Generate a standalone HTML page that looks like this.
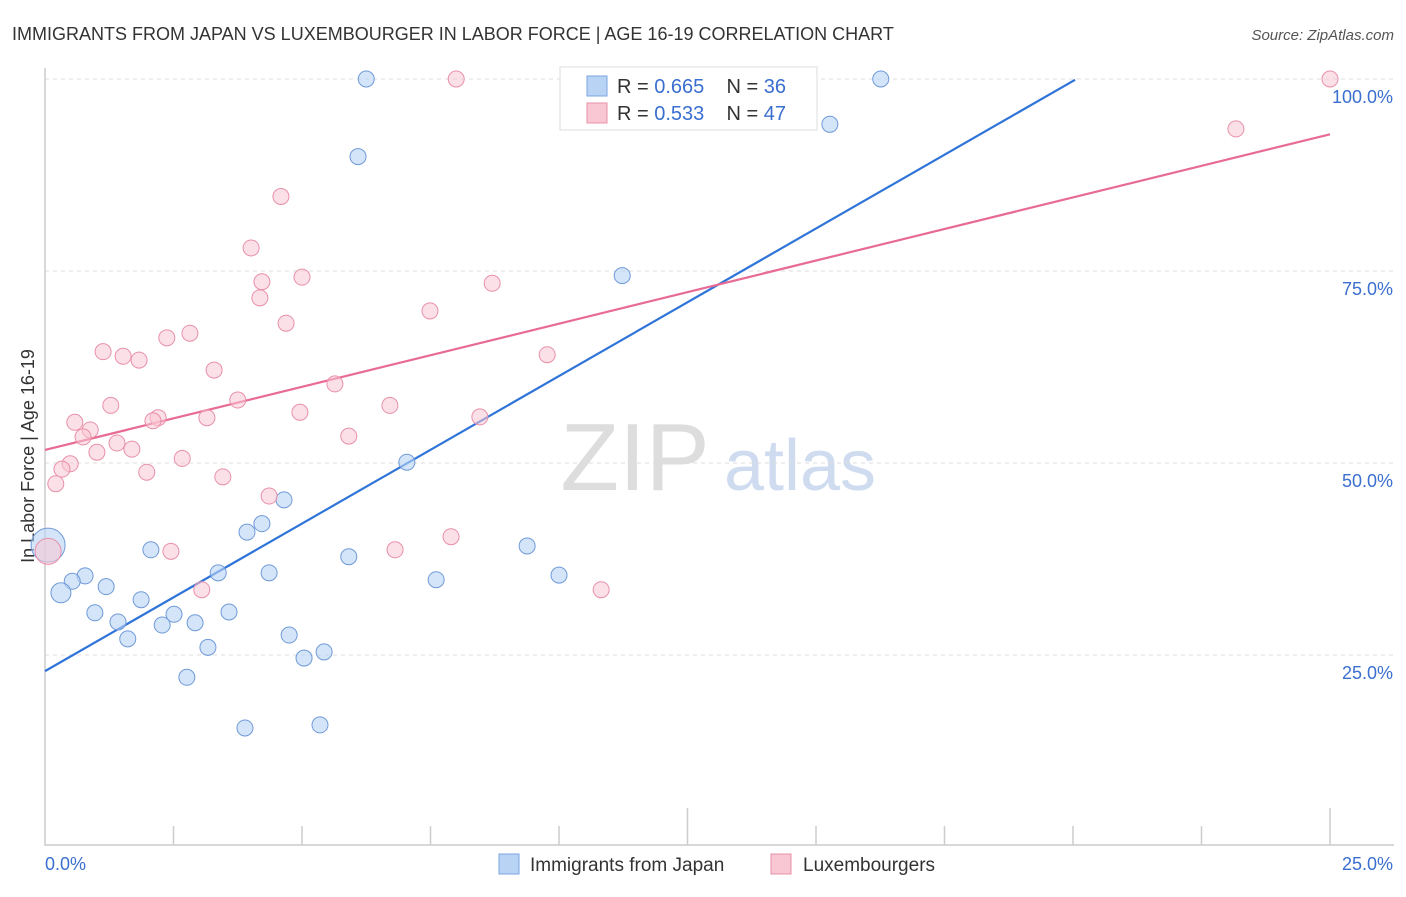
<!DOCTYPE html>
<html><head><meta charset="utf-8">
<style>
body{margin:0;background:#fff;font-family:"Liberation Sans",sans-serif;}
svg text{font-family:"Liberation Sans",sans-serif;}
</style></head>
<body>
<svg id="chart" width="1406" height="892" xmlns="http://www.w3.org/2000/svg">
<text x="12" y="40" font-size="18" fill="#333">IMMIGRANTS FROM JAPAN VS LUXEMBOURGER IN LABOR FORCE | AGE 16-19 CORRELATION CHART</text>
<text x="1394" y="40" font-size="15" fill="#555" text-anchor="end" font-style="italic">Source: ZipAtlas.com</text>
<text transform="translate(34,456) rotate(-90)" font-size="18" fill="#333" text-anchor="middle">In Labor Force | Age 16-19</text>
<g>
<text x="635" y="490" font-size="96" fill="#ddd" font-family="Liberation Serif" text-anchor="middle">ZIP</text>
<text x="800" y="490" font-size="72" fill="#cfdcf0" text-anchor="middle">atlas</text>
</g>
<g id="grid"></g><g id="axes"></g>
<g id="lines"></g><g id="pts"></g>
<g>
<rect x="560" y="67" width="257" height="63" fill="#fff" stroke="#ddd"/>
<rect x="587" y="76" width="20" height="20" fill="#b9d3f5" stroke="#7aa5e0"/>
<text x="617" y="93" font-size="20" fill="#333" xml:space="preserve">R = <tspan fill="#3a6fd0">0.665</tspan>    N = <tspan fill="#3a6fd0">36</tspan></text>
<rect x="587" y="103" width="20" height="20" fill="#f9c6d4" stroke="#e890aa"/>
<text x="617" y="120" font-size="20" fill="#333" xml:space="preserve">R = <tspan fill="#3a6fd0">0.533</tspan>    N = <tspan fill="#3a6fd0">47</tspan></text>
</g>
<g>
<rect x="499" y="854" width="20" height="20" fill="#b9d3f5" stroke="#7aa5e0"/>
<text x="530" y="871" font-size="19" fill="#333">Immigrants from Japan</text>
<rect x="771" y="854" width="20" height="20" fill="#f9c6d4" stroke="#e890aa"/>
<text x="803" y="871" font-size="19" fill="#333">Luxembourgers</text>
</g>
</svg>
<script>
const blueX=[6.25,16.26,15.27,6.09,11.23,7.04,4.65,4.22,3.93,2.06,9.38,5.91,0.06,3.37,4.36,10.0,7.61,0.78,0.53,1.19,0.31,1.87,0.97,2.51,3.58,1.42,2.28,2.92,4.75,1.61,3.17,5.43,5.04,2.76,5.35,3.89];
const blueY=[100,100,94.1,89.9,74.4,50.1,45.2,42.1,41.0,38.7,39.2,37.8,39.3,35.7,35.7,35.4,34.8,35.3,34.6,33.9,33.1,32.2,30.5,30.3,30.6,29.3,28.9,29.2,27.6,27.1,26.0,25.4,24.6,22.1,15.9,15.5];
const blueR=[8,8,8,8,8,8,8,8,8,8,8,8,17,8,8,8,8,8,8,8,10,8,8,8,8,8,8,8,8,8,8,8,8,8,8,8];
const pinkX=[8.0,25,23.17,4.59,4.01,4.22,5.0,8.7,4.18,4.69,7.49,2.82,2.37,1.13,1.52,1.83,9.77,3.29,5.64,3.75,1.28,6.71,4.96,2.2,2.1,3.15,8.46,0.58,0.88,0.74,5.91,1.4,1.69,1.01,2.67,0.49,0.33,1.98,3.46,0.21,4.36,7.9,6.81,2.45,0.06,3.05,10.82];
const pinkY=[100,100,93.5,84.7,78.0,73.6,74.2,73.4,71.5,68.2,69.8,66.9,66.3,64.5,63.9,63.4,64.1,62.1,60.3,58.2,57.5,57.5,56.6,55.9,55.5,55.9,56.0,55.3,54.3,53.4,53.5,52.6,51.8,51.4,50.6,49.9,49.2,48.8,48.2,47.3,45.7,40.4,38.7,38.5,38.5,33.5,33.5];
const blueTrend=[[0,22.9],[20.04,99.9]];
const pinkTrend=[[0,51.7],[25,92.8]];
const yTicks=[25,50,75,100];
const yTickLabels=["25.0%","50.0%","75.0%","100.0%"];
const xTicks=[0,2.5,5,7.5,10,12.5,15,17.5,20,22.5,25];
const NS="http://www.w3.org/2000/svg";
const sx=v=>45+v/25*1285, sy=v=>847-v/100*768;
function mk(parent,tag,attrs){const e=document.createElementNS(NS,tag);for(const k in attrs)e.setAttribute(k,attrs[k]);document.getElementById(parent).appendChild(e);return e;}
yTicks.forEach((t,i)=>{
 const g=mk('grid','line',{x1:45,x2:1394,y1:sy(t),y2:sy(t),stroke:'#ddd','stroke-dasharray':'4,4'});
 
 
 const l=mk('axes','text',{x:1393,y:sy(t)+24,'font-size':18,fill:'#3a6fd0','text-anchor':'end'});
 l.textContent=yTickLabels[i];
 
 
});
const ax=mk('axes','path',{d:'M45,68 V845 H1394',fill:'none',stroke:'#ccc','stroke-width':1.5});


xTicks.forEach((t,i)=>{
 if(i==0)return;
 const tk=mk('axes','line',{x1:sx(t),x2:sx(t),y1:((i==5||i==10)?808:826),y2:845,stroke:'#ccc','stroke-width':1.5});
 
 
});
const x0=mk('axes','text',{x:45,y:870,'font-size':18,fill:'#3a6fd0'});x0.textContent='0.0%';


const x1=mk('axes','text',{x:1393,y:870,'font-size':18,fill:'#3a6fd0','text-anchor':'end'});x1.textContent='25.0%';


blueX.forEach((v,i)=>{
 const c=mk('pts','circle',{cx:sx(v),cy:sy(blueY[i]),r:blueR[i],fill:'rgba(185,211,245,0.6)',stroke:'#6f9ad8','stroke-width':1});
 
 
});
pinkX.forEach((v,i)=>{
 const c=mk('pts','circle',{cx:sx(v),cy:sy(pinkY[i]),r:(i==44?13:8),fill:'rgba(249,198,212,0.55)',stroke:'#e890aa','stroke-width':1});
 
 
});
const bl=mk('lines','line',{x1:sx(blueTrend[0][0]),y1:sy(blueTrend[0][1]),x2:sx(blueTrend[1][0]),y2:sy(blueTrend[1][1]),stroke:'#2f74d8','stroke-width':2.2});


const pl=mk('lines','line',{x1:sx(pinkTrend[0][0]),y1:sy(pinkTrend[0][1]),x2:sx(pinkTrend[1][0]),y2:sy(pinkTrend[1][1]),stroke:'#e86b94','stroke-width':2.2});


</script>
</body></html>
